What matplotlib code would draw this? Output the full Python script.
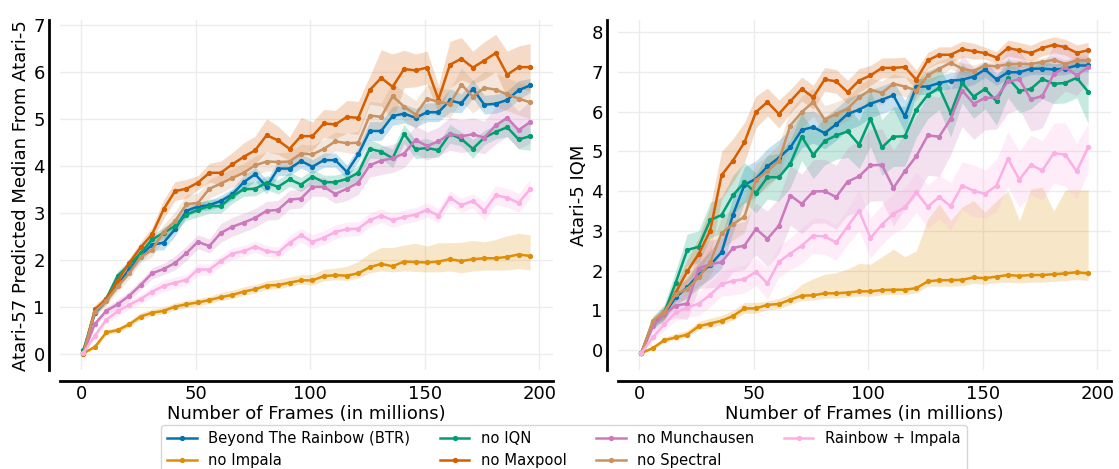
import numpy as np
import matplotlib
matplotlib.use("Agg")
import matplotlib.pyplot as plt
import seaborn as sns

# Evaluation points (millions of frames)
frames = np.arange(1, 200, 5)

labels = ["Beyond The Rainbow (BTR)", "no Impala", "no IQN", "no Maxpool",
          "no Munchausen", "no Spectral", "Rainbow + Impala"]
colors = ["#0173b2", "#de8f05", "#029e73", "#d55e00", "#cc78bc", "#ca9161", "#fbafe4"]

# ---------------- Atari-57 predicted median (left panel) ----------------
left_btr = [0.04, 0.86, 1.14, 1.46, 1.79, 2.09, 2.32, 2.36, 2.65, 3.04,
            3.13, 3.16, 3.25, 3.39, 3.65, 3.82, 3.55, 3.94, 3.94, 4.10,
            3.98, 4.12, 4.12, 3.87, 4.24, 4.74, 4.74, 5.06, 5.11, 5.02,
            5.14, 5.14, 5.39, 5.33, 5.64, 5.30, 5.32, 5.40, 5.61, 5.71]
left_noimpala = [0.01, 0.14, 0.45, 0.50, 0.62, 0.79, 0.87, 0.91, 1.00, 1.05,
                 1.09, 1.14, 1.20, 1.25, 1.32, 1.37, 1.45, 1.46, 1.51, 1.56,
                 1.56, 1.65, 1.67, 1.66, 1.71, 1.84, 1.91, 1.86, 1.96, 1.95,
                 1.94, 1.96, 2.01, 1.97, 2.01, 2.03, 2.03, 2.06, 2.11, 2.08]
left_noiqn = [0.07, 0.89, 1.17, 1.66, 1.89, 2.14, 2.43, 2.57, 2.72, 2.96,
              3.06, 3.14, 3.14, 3.35, 3.50, 3.51, 3.64, 3.55, 3.71, 3.60,
              3.77, 3.65, 3.65, 3.72, 3.85, 4.36, 4.30, 4.16, 4.68, 4.35,
              4.38, 4.33, 4.68, 4.57, 4.36, 4.60, 4.72, 4.82, 4.56, 4.63]
left_nomaxpool = [0.00, 0.94, 1.16, 1.55, 1.93, 2.26, 2.54, 3.07, 3.46, 3.51,
                  3.64, 3.85, 3.85, 4.03, 4.19, 4.33, 4.65, 4.54, 4.36, 4.63,
                  4.63, 4.90, 4.88, 5.04, 5.02, 5.61, 5.87, 5.68, 6.06, 6.03,
                  6.09, 5.41, 6.15, 6.28, 6.09, 6.24, 6.40, 5.94, 6.10, 6.10]
left_nomunch = [0.01, 0.63, 0.91, 1.05, 1.23, 1.46, 1.71, 1.80, 1.93, 2.14,
                2.38, 2.29, 2.57, 2.70, 2.79, 2.89, 3.04, 3.06, 3.28, 3.30,
                3.55, 3.55, 3.40, 3.51, 3.64, 4.01, 4.11, 4.16, 4.26, 4.55,
                4.42, 4.52, 4.68, 4.63, 4.67, 4.60, 4.86, 5.02, 4.76, 4.93]
left_nospectral = [0.01, 0.89, 1.12, 1.43, 1.71, 2.06, 2.21, 2.59, 2.82, 3.18,
                   3.21, 3.51, 3.62, 3.74, 3.85, 4.01, 4.09, 4.08, 4.09, 4.26,
                   4.24, 4.36, 4.52, 4.48, 4.49, 5.07, 5.04, 5.48, 5.26, 5.09,
                   5.43, 5.36, 5.32, 5.73, 5.47, 5.66, 5.62, 5.52, 5.43, 5.35]
left_rainbow = [0.01, 0.38, 0.72, 0.90, 1.04, 1.16, 1.32, 1.44, 1.51, 1.57,
                1.79, 1.79, 1.97, 2.13, 2.18, 2.28, 2.18, 2.15, 2.36, 2.52,
                2.38, 2.47, 2.59, 2.65, 2.66, 2.84, 2.94, 2.84, 2.91, 2.96,
                3.06, 2.94, 3.32, 3.16, 3.25, 3.04, 3.37, 3.32, 3.21, 3.50]

# confidence band half-widths (left panel)
left_btr_hw = [0.02, 0.05, 0.06, 0.08, 0.10, 0.12, 0.12, 0.15, 0.15, 0.12,
               0.10, 0.10, 0.12, 0.12, 0.15, 0.15, 0.15, 0.15, 0.15, 0.15,
               0.15, 0.15, 0.15, 0.15, 0.15, 0.20, 0.20, 0.20, 0.20, 0.20,
               0.20, 0.20, 0.25, 0.20, 0.20, 0.20, 0.20, 0.20, 0.20, 0.15]
left_noimpala_lo = [0.02, 0.04, 0.05, 0.05, 0.06, 0.06, 0.06, 0.06, 0.07, 0.07,
                    0.07, 0.07, 0.07, 0.08, 0.08, 0.08, 0.08, 0.08, 0.08, 0.08,
                    0.10, 0.10, 0.10, 0.10, 0.10, 0.12, 0.15, 0.12, 0.20, 0.20,
                    0.20, 0.22, 0.25, 0.25, 0.25, 0.25, 0.25, 0.28, 0.30, 0.30]
left_noimpala_hi = [0.02, 0.05, 0.06, 0.06, 0.07, 0.08, 0.08, 0.08, 0.08, 0.08,
                    0.08, 0.08, 0.10, 0.10, 0.10, 0.10, 0.10, 0.12, 0.12, 0.12,
                    0.12, 0.15, 0.15, 0.20, 0.25, 0.30, 0.35, 0.40, 0.35, 0.40,
                    0.35, 0.40, 0.35, 0.40, 0.40, 0.35, 0.40, 0.45, 0.45, 0.45]
left_noiqn_hw = [0.02, 0.05, 0.08, 0.10, 0.10, 0.10, 0.10, 0.12, 0.12, 0.12,
                 0.15, 0.15, 0.15, 0.15, 0.15, 0.15, 0.15, 0.15, 0.15, 0.15,
                 0.15, 0.15, 0.15, 0.15, 0.15, 0.20, 0.15, 0.20, 0.20, 0.20,
                 0.20, 0.15, 0.20, 0.15, 0.20, 0.15, 0.15, 0.20, 0.20, 0.30]
left_nomaxpool_hw = [0.02, 0.10, 0.10, 0.10, 0.10, 0.12, 0.15, 0.20, 0.20, 0.20,
                     0.15, 0.20, 0.25, 0.25, 0.30, 0.30, 0.35, 0.30, 0.25, 0.40,
                     0.30, 0.30, 0.30, 0.35, 0.35, 0.30, 0.60, 0.70, 0.40, 0.35,
                     0.35, 0.30, 0.50, 0.45, 0.35, 0.40, 0.40, 0.50, 0.45, 0.50]
left_nomunch_hw = [0.02, 0.05, 0.08, 0.10, 0.10, 0.10, 0.12, 0.12, 0.15, 0.15,
                   0.15, 0.15, 0.20, 0.20, 0.20, 0.20, 0.20, 0.20, 0.20, 0.20,
                   0.20, 0.20, 0.20, 0.25, 0.25, 0.25, 0.30, 0.30, 0.30, 0.30,
                   0.30, 0.30, 0.35, 0.35, 0.35, 0.35, 0.40, 0.40, 0.40, 0.45]
left_nospectral_hw = [0.02, 0.10, 0.10, 0.10, 0.12, 0.12, 0.15, 0.15, 0.20, 0.20,
                      0.20, 0.20, 0.20, 0.20, 0.20, 0.20, 0.20, 0.20, 0.20, 0.20,
                      0.20, 0.20, 0.20, 0.20, 0.25, 0.30, 0.30, 0.30, 0.30, 0.30,
                      0.30, 0.30, 0.30, 0.35, 0.35, 0.35, 0.35, 0.35, 0.35, 0.35]
left_rainbow_hw = [0.02, 0.05, 0.08, 0.10, 0.10, 0.10, 0.12, 0.12, 0.12, 0.12,
                   0.12, 0.12, 0.12, 0.12, 0.12, 0.12, 0.12, 0.12, 0.15, 0.15,
                   0.15, 0.15, 0.15, 0.15, 0.15, 0.15, 0.15, 0.15, 0.15, 0.15,
                   0.15, 0.15, 0.15, 0.15, 0.15, 0.20, 0.20, 0.20, 0.20, 0.20]

# ---------------- Atari-5 IQM (right panel) ----------------
right_btr = [-0.07, 0.65, 0.92, 1.33, 1.58, 1.90, 2.14, 2.46, 3.41, 4.16,
             4.31, 4.62, 4.84, 5.10, 5.54, 5.61, 5.46, 5.68, 5.94, 6.05,
             6.20, 6.30, 6.41, 5.88, 6.63, 6.63, 6.72, 6.78, 6.80, 6.88,
             7.06, 6.81, 6.99, 6.99, 7.08, 7.08, 7.06, 7.08, 7.16, 7.16]
right_noimpala = [-0.07, 0.05, 0.25, 0.32, 0.39, 0.60, 0.67, 0.74, 0.86, 1.05,
                  1.05, 1.14, 1.16, 1.27, 1.37, 1.38, 1.43, 1.43, 1.45, 1.48,
                  1.48, 1.51, 1.52, 1.52, 1.56, 1.73, 1.76, 1.76, 1.77, 1.83,
                  1.81, 1.85, 1.89, 1.87, 1.89, 1.89, 1.91, 1.93, 1.96, 1.93]
right_noiqn = [-0.07, 0.70, 0.95, 1.70, 2.52, 2.60, 3.27, 3.40, 3.90, 4.22,
               3.95, 4.35, 4.35, 4.69, 5.37, 4.91, 5.26, 5.40, 5.50, 5.17,
               5.82, 5.10, 5.37, 5.38, 6.05, 6.42, 6.60, 5.96, 6.72, 6.38,
               6.57, 6.26, 6.85, 6.52, 6.57, 6.82, 6.70, 6.72, 6.85, 6.50]
right_nomaxpool = [-0.07, 0.72, 0.93, 1.45, 1.98, 2.42, 3.00, 4.40, 4.77, 5.23,
                   5.99, 6.24, 5.94, 6.26, 6.57, 6.36, 6.81, 6.76, 6.49, 6.78,
                   6.91, 7.10, 7.10, 7.12, 6.80, 7.29, 7.43, 7.43, 7.57, 7.52,
                   7.47, 7.36, 7.60, 7.54, 7.47, 7.60, 7.68, 7.62, 7.48, 7.54]
right_nomunch = [-0.07, 0.61, 0.91, 1.12, 1.17, 2.05, 2.17, 2.21, 2.57, 2.63,
                 3.05, 2.80, 3.13, 3.89, 3.68, 3.99, 4.00, 3.85, 4.24, 4.37,
                 4.65, 4.66, 4.08, 4.50, 4.88, 5.40, 5.37, 5.82, 6.53, 6.20,
                 6.34, 6.36, 6.76, 6.81, 6.31, 6.39, 6.94, 7.12, 6.91, 7.12]
right_nospectral = [-0.07, 0.74, 0.95, 1.41, 1.54, 1.83, 2.21, 2.94, 3.17, 3.36,
                    4.28, 4.50, 4.77, 5.65, 5.99, 6.24, 5.80, 5.94, 6.07, 6.36,
                    6.55, 6.47, 6.70, 6.63, 6.53, 6.91, 7.08, 7.23, 7.08, 7.02,
                    7.16, 7.14, 7.19, 7.20, 7.20, 7.25, 7.30, 7.20, 7.29, 7.29]
right_rainbow = [-0.07, 0.32, 0.65, 0.95, 1.07, 1.17, 1.39, 1.66, 1.74, 1.79,
                 1.97, 1.68, 2.22, 2.43, 2.63, 2.88, 2.86, 2.71, 3.11, 3.51,
                 2.82, 3.16, 3.43, 3.59, 3.97, 3.61, 3.85, 3.62, 4.14, 4.01,
                 3.93, 4.14, 4.81, 4.29, 4.66, 4.52, 4.95, 4.92, 4.50, 5.10]

# confidence band half-widths (right panel)
right_btr_hw = [0.03, 0.10, 0.15, 0.20, 0.25, 0.30, 0.35, 0.40, 0.45, 0.45,
                0.45, 0.45, 0.45, 0.45, 0.45, 0.40, 0.40, 0.40, 0.40, 0.40,
                0.35, 0.35, 0.35, 0.40, 0.20, 0.20, 0.20, 0.20, 0.20, 0.20,
                0.20, 0.15, 0.15, 0.15, 0.15, 0.15, 0.15, 0.15, 0.15, 0.15]
right_noimpala_lo = [0.02, 0.03, 0.05, 0.05, 0.07, 0.08, 0.10, 0.10, 0.10, 0.12,
                     0.12, 0.12, 0.12, 0.12, 0.12, 0.12, 0.12, 0.12, 0.12, 0.12,
                     0.12, 0.12, 0.12, 0.12, 0.12, 0.12, 0.15, 0.15, 0.15, 0.15,
                     0.15, 0.15, 0.18, 0.18, 0.18, 0.18, 0.18, 0.18, 0.18, 0.18]
right_noimpala_hi = [0.02, 0.07, 0.08, 0.10, 0.11, 0.12, 0.13, 0.14, 0.14, 0.15,
                     0.15, 0.10, 0.14, 0.14, 0.29, 0.42, 0.48, 0.52, 0.59, 0.70,
                     0.68, 0.84, 1.02, 0.83, 0.94, 1.57, 1.92, 1.50, 1.83, 1.93,
                     1.66, 1.91, 2.11, 1.39, 2.16, 2.21, 1.59, 2.10, 2.07, 2.10]
right_noiqn_hw = [0.03, 0.15, 0.20, 0.30, 0.40, 0.40, 0.45, 0.45, 0.50, 0.50,
                  0.50, 0.55, 0.60, 0.60, 0.60, 0.60, 0.60, 0.60, 0.65, 0.60,
                  0.70, 0.70, 0.75, 0.75, 0.70, 0.60, 0.55, 0.60, 0.50, 0.55,
                  0.50, 0.60, 0.50, 0.55, 0.50, 0.50, 0.50, 0.50, 0.50, 0.80]
right_nomaxpool_hw = [0.03, 0.10, 0.15, 0.20, 0.30, 0.40, 0.60, 0.60, 0.55, 0.50,
                      0.40, 0.35, 0.35, 0.30, 0.30, 0.30, 0.30, 0.30, 0.30, 0.30,
                      0.25, 0.25, 0.25, 0.25, 0.25, 0.20, 0.20, 0.20, 0.20, 0.20,
                      0.15, 0.15, 0.20, 0.20, 0.20, 0.20, 0.20, 0.20, 0.20, 0.20]
right_nomunch_hw = [0.03, 0.15, 0.20, 0.30, 0.40, 0.50, 0.60, 0.60, 0.60, 0.60,
                    0.65, 0.70, 0.70, 0.75, 0.75, 0.80, 0.80, 0.80, 0.85, 0.90,
                    0.90, 0.90, 0.95, 0.95, 1.00, 1.00, 1.00, 0.90, 0.90, 0.90,
                    0.80, 0.80, 0.80, 0.75, 0.80, 0.80, 0.70, 0.60, 0.50, 0.40]
right_nospectral_hw = [0.03, 0.10, 0.15, 0.20, 0.25, 0.30, 0.35, 0.40, 0.40, 0.40,
                       0.40, 0.40, 0.40, 0.40, 0.40, 0.35, 0.35, 0.30, 0.30, 0.30,
                       0.30, 0.30, 0.25, 0.25, 0.25, 0.20, 0.20, 0.15, 0.15, 0.15,
                       0.10, 0.10, 0.10, 0.10, 0.10, 0.10, 0.10, 0.10, 0.10, 0.10]
right_rainbow_hw = [0.03, 0.10, 0.15, 0.20, 0.25, 0.30, 0.30, 0.30, 0.35, 0.35,
                    0.35, 0.40, 0.40, 0.40, 0.45, 0.45, 0.45, 0.45, 0.45, 0.50,
                    0.50, 0.50, 0.50, 0.50, 0.50, 0.55, 0.55, 0.60, 0.60, 0.65,
                    0.60, 0.65, 0.70, 0.70, 0.75, 0.75, 0.75, 0.80, 0.70, 0.60]

left_series = [
    (left_btr, left_btr_hw, left_btr_hw),
    (left_noimpala, left_noimpala_lo, left_noimpala_hi),
    (left_noiqn, left_noiqn_hw, left_noiqn_hw),
    (left_nomaxpool, left_nomaxpool_hw, left_nomaxpool_hw),
    (left_nomunch, left_nomunch_hw, left_nomunch_hw),
    (left_nospectral, left_nospectral_hw, left_nospectral_hw),
    (left_rainbow, left_rainbow_hw, left_rainbow_hw),
]
right_series = [
    (right_btr, right_btr_hw, right_btr_hw),
    (right_noimpala, right_noimpala_lo, right_noimpala_hi),
    (right_noiqn, right_noiqn_hw, right_noiqn_hw),
    (right_nomaxpool, right_nomaxpool_hw, right_nomaxpool_hw),
    (right_nomunch, right_nomunch_hw, right_nomunch_hw),
    (right_nospectral, right_nospectral_hw, right_nospectral_hw),
    (right_rainbow, right_rainbow_hw, right_rainbow_hw),
]

plt.rcParams["font.family"] = ["DejaVu Sans"]

fig = plt.figure(figsize=(11.19, 4.69), dpi=100)
ax_l = fig.add_axes([0.0536, 0.211, 0.4406, 0.746])
ax_r = fig.add_axes([0.5523, 0.211, 0.4406, 0.746])


def draw_panel(ax, series, ylabel, ylim, yticks):
    handles = []
    for (mean, lo_w, hi_w), color, label in zip(series, colors, labels):
        mean = np.asarray(mean)
        lo = mean - np.asarray(lo_w)
        hi = mean + np.asarray(hi_w)
        ax.fill_between(frames, lo, hi, color=color, alpha=0.22, lw=0)
        h, = ax.plot(frames, mean, color=color, lw=1.8, marker="o", ms=2.8,
                     label=label)
        handles.append(h)
    ax.set_xlim(-9.2, 206)
    ax.set_ylim(*ylim)
    ax.set_xticks([0, 50, 100, 150, 200])
    ax.set_yticks(yticks)
    ax.grid(True, color="#ececec", lw=1.0)
    ax.set_axisbelow(True)
    sns.despine(ax=ax, offset=8)
    for side in ("left", "bottom"):
        ax.spines[side].set_linewidth(2.0)
        ax.spines[side].set_color("black")
    ax.tick_params(length=0, labelsize=13, pad=3)
    ax.set_xlabel("Number of Frames (in millions)", fontsize=13, labelpad=1)
    ax.set_ylabel(ylabel, fontsize=13, labelpad=2)
    return handles


handles = draw_panel(ax_l, left_series, "Atari-57 Predicted Median From Atari-5",
                     (-0.35, 7.1), range(0, 8))
draw_panel(ax_r, right_series, "Atari-5 IQM", (-0.5, 8.3), range(0, 9))

fig.legend(handles, labels, loc="upper center", bbox_to_anchor=(0.504, 0.094),
           ncol=4, fontsize=10.6, frameon=True, edgecolor="#cccccc",
           handlelength=2.0, columnspacing=2.0, borderaxespad=0.0)

fig.savefig("out.png", dpi=100)
